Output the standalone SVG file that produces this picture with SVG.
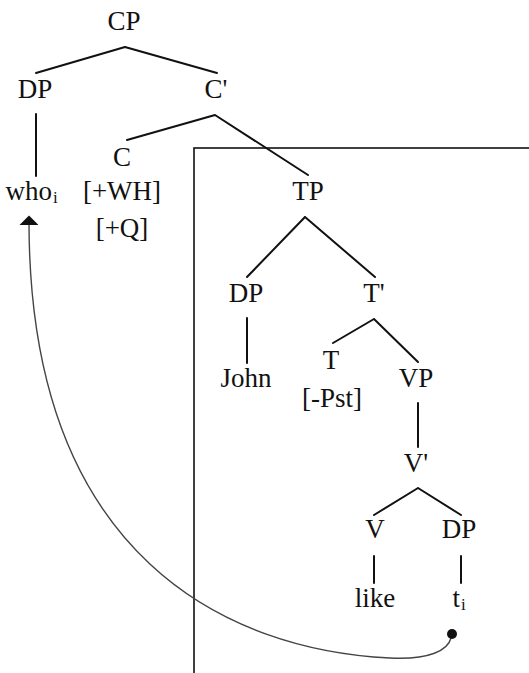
<svg xmlns="http://www.w3.org/2000/svg" width="529" height="673" viewBox="0 0 529 673">
  <style>
    .lbl text { font-size: 27px; fill: #111; text-anchor: middle; }
    .lbl .sub { font-size: 17px; text-anchor: start; }
    .lbl .lead { text-anchor: end; }
    .edge { stroke: #111; stroke-width: 2; fill: none; stroke-linecap: round; }
    .move { stroke: #444; stroke-width: 1.4; fill: none; }
    .box { stroke: #111; stroke-width: 1.6; fill: none; }
  </style>
  <defs>
    <marker id="arrowhead" viewBox="0 0 10 20" refX="1" refY="10" markerWidth="10" markerHeight="19" markerUnits="userSpaceOnUse" orient="auto-start-reverse">
      <path d="M0,0 L10,10 L0,20 z" fill="#111"/>
    </marker>
  </defs>

  <rect fill="#fff" width="529" height="673"/>

  <!-- embedded TP clause box -->
  <rect class="box" x="194" y="148" width="360" height="560"/>

  <g id="connectors">
    <path class="edge" d="M125,47 L36,73 M125,47 L217,73"/>
    <path class="edge" d="M36,114 L36,176"/>
    <path class="edge" d="M215,115 L127,140 M215,115 L308,175"/>
    <path class="edge" d="M305,217 L247,277 M305,217 L375,277"/>
    <path class="edge" d="M247,318 L247,363"/>
    <path class="edge" d="M374,319 L333,343 M374,319 L418,362"/>
    <path class="edge" d="M418,403 L418,447"/>
    <path class="edge" d="M418,488 L374,515 M418,488 L461,515"/>
    <path class="edge" d="M374,556 L374,583"/>
    <path class="edge" d="M461,556 L461,583"/>
    <!-- wh-movement from trace to who -->
    <path class="move" marker-start="url(#arrowhead)" d="M29,224 C30,560 230,650 390,658 C430,660 448,650 451,638"/>
    <circle cx="452" cy="634" r="5" fill="#111"/>
  </g>

  <g class="lbl" font-family="Liberation Serif, Times New Roman, Times, DejaVu Serif, serif">
    <g id="n-cp"><text x="124" y="30">CP</text></g>
    <g id="n-dp-who"><text x="35" y="98">DP</text></g>
    <g id="n-cbar"><text x="216" y="98">C'</text></g>
    <g id="n-who"><text class="lead" x="52" y="200">who</text><text class="sub" x="53" y="203">i</text></g>
    <g id="n-c"><text x="122" y="166">C</text><text x="122" y="200">[+WH]</text><text x="122" y="237">[+Q]</text></g>
    <g id="n-tp"><text x="308" y="200">TP</text></g>
    <g id="n-dp-john"><text x="246" y="302">DP</text></g>
    <g id="n-tbar"><text x="374" y="302">T'</text></g>
    <g id="n-john"><text x="246" y="387">John</text></g>
    <g id="n-t"><text x="331" y="369">T</text><text x="332" y="407">[-Pst]</text></g>
    <g id="n-vp"><text x="416" y="387">VP</text></g>
    <g id="n-vbar"><text x="416" y="472">V'</text></g>
    <g id="n-v"><text x="375" y="538">V</text></g>
    <g id="n-dp-trace"><text x="459" y="538">DP</text></g>
    <g id="n-like"><text x="375" y="607">like</text></g>
    <g id="n-trace"><text class="lead" x="460" y="607">t</text><text class="sub" x="461" y="610">i</text></g>
  </g>
</svg>
